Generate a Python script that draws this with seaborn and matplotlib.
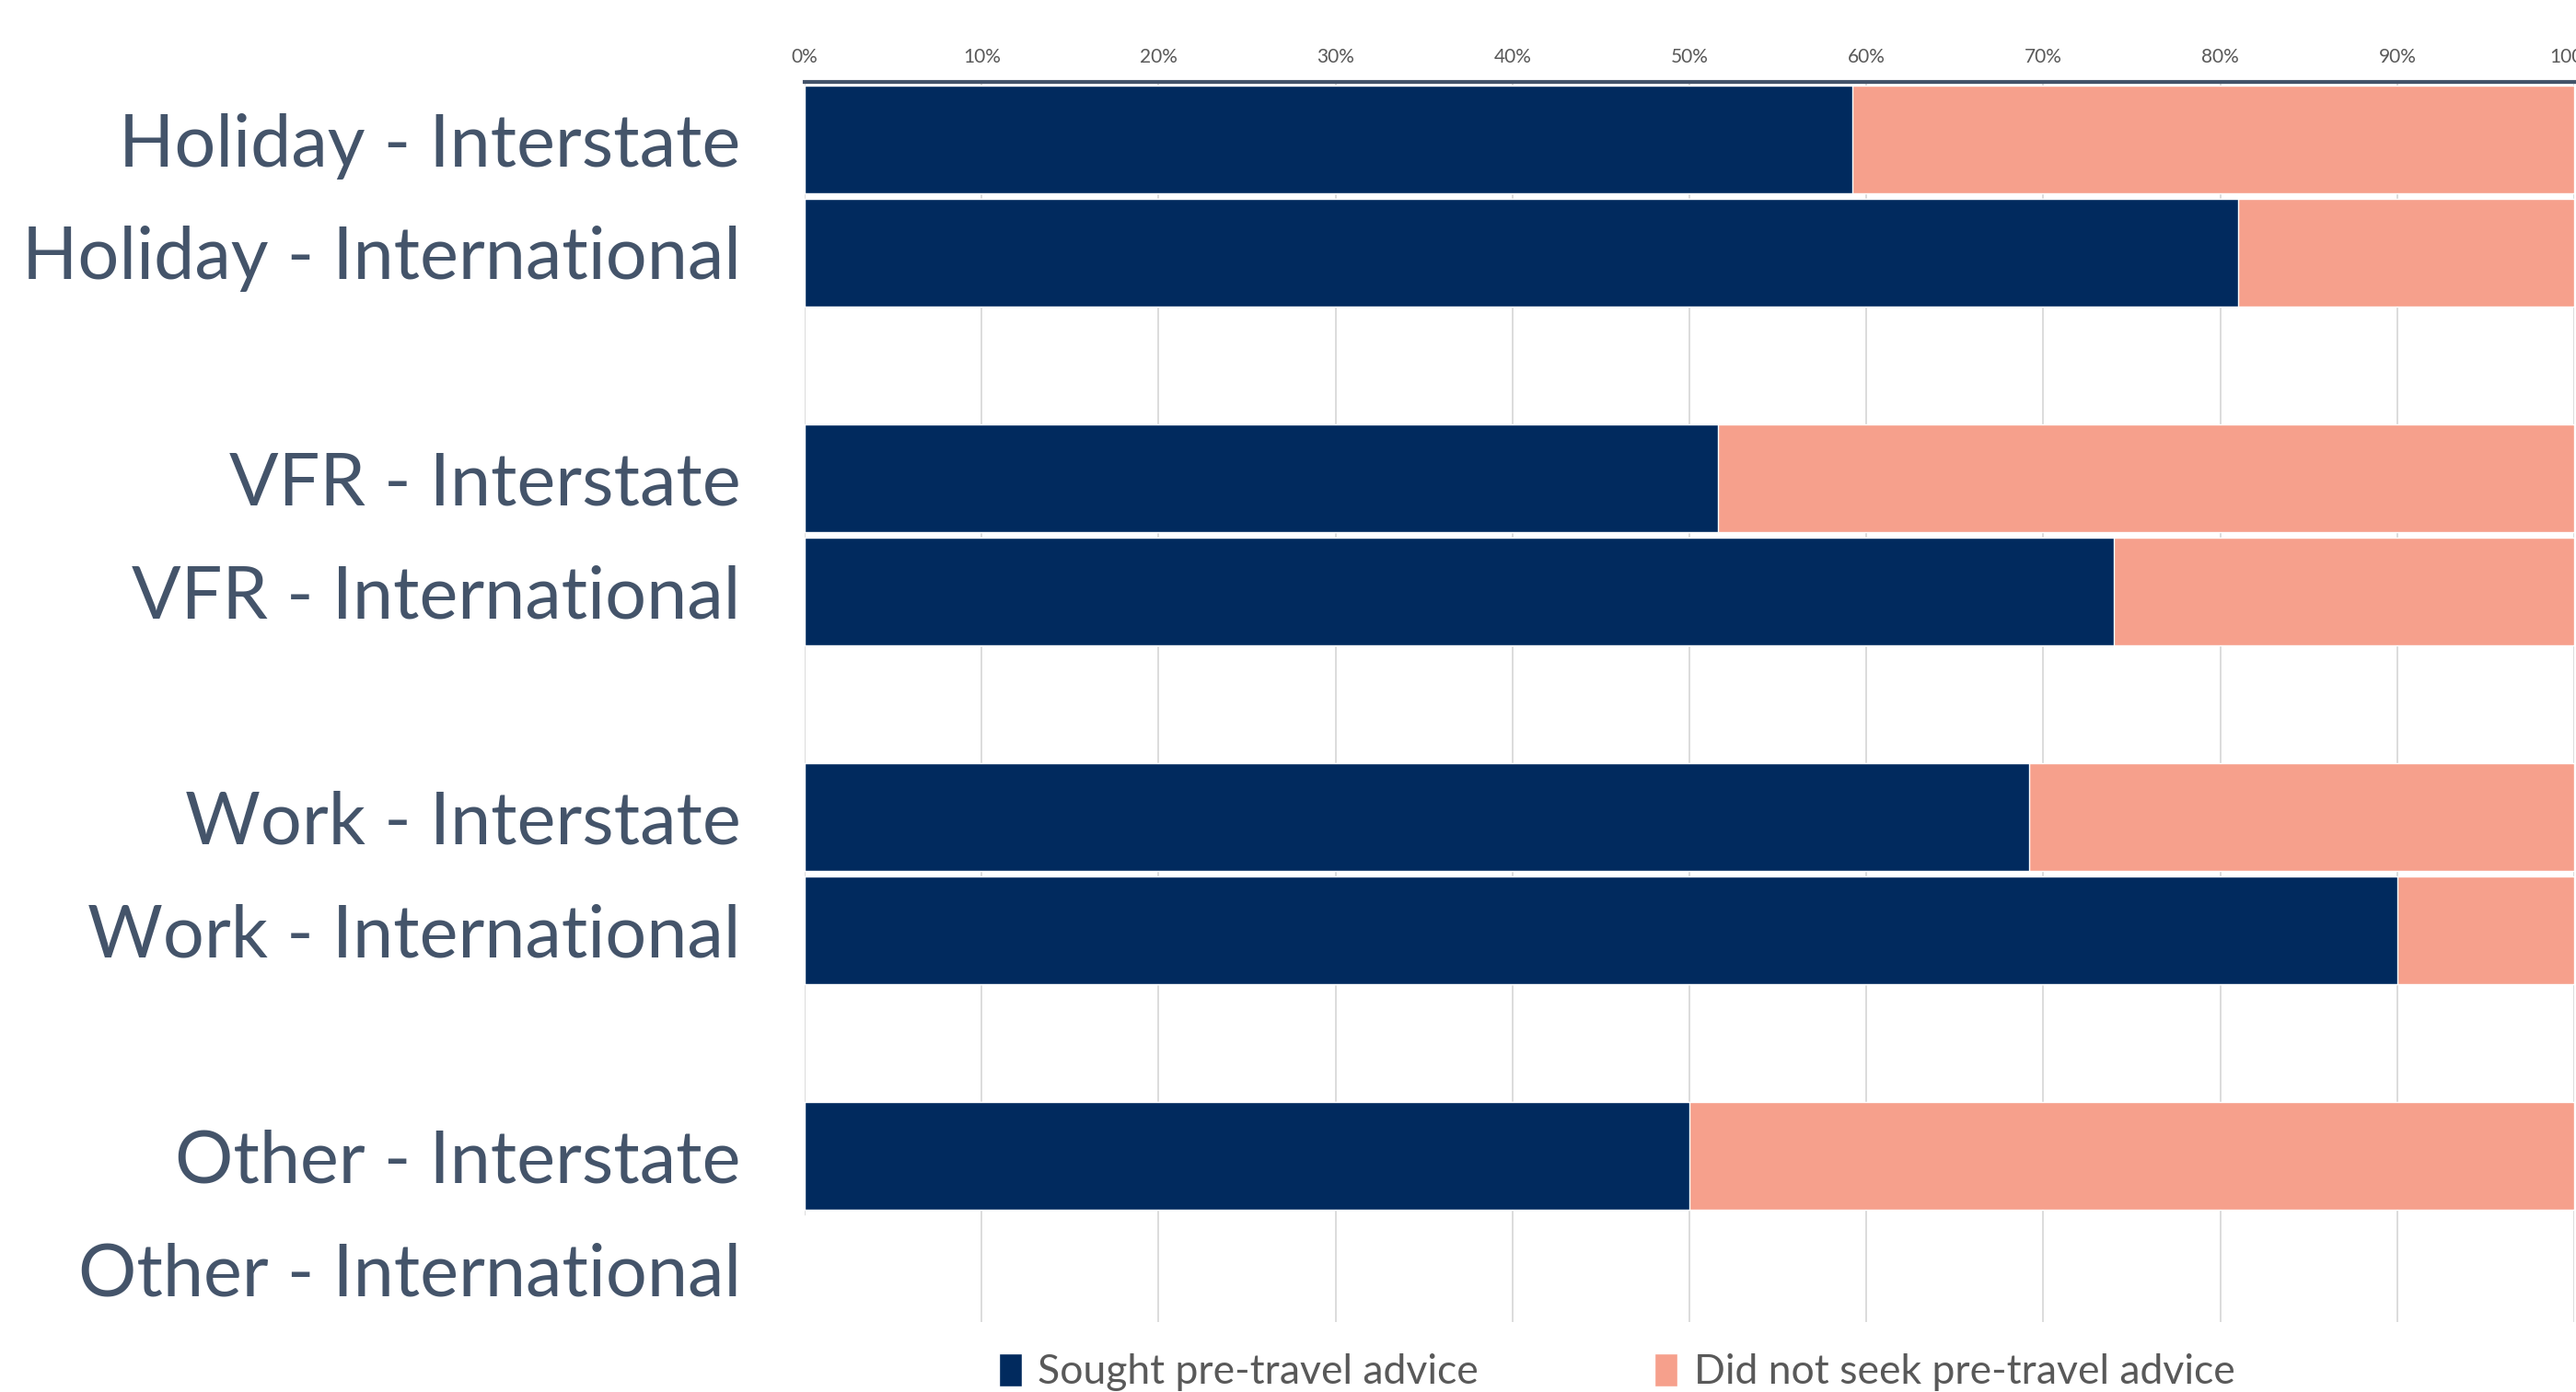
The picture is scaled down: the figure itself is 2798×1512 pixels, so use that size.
import numpy as np
import pandas as pd
import matplotlib
matplotlib.use("Agg")
import matplotlib.pyplot as plt
import seaborn as sns
from matplotlib.ticker import PercentFormatter

# ==========================================
# DATA
# ==========================================
categories = ["Holiday - Interstate", "Holiday - International",
              "VFR - Interstate", "VFR - International",
              "Work - Interstate", "Work - International",
              "Other - Interstate", "Other - International"]
sought = [59.2, 81.0, 51.6, 74.0, 69.2, 90.0, 50.0, 0.0]
not_sought = [40.8, 19.0, 48.4, 26.0, 30.8, 10.0, 50.0, 0.0]
series_names = ["Sought pre-travel advice", "Did not seek pre-travel advice"]

# Empty slots between the groups, as in the original chart
slot_order = ["Holiday - Interstate", "Holiday - International", "_gap1",
              "VFR - Interstate", "VFR - International", "_gap2",
              "Work - Interstate", "Work - International", "_gap3",
              "Other - Interstate", "Other - International"]

NAVY = "#012A5E"
SALMON = "#F6A08C"
LABEL_COL = "#44546A"
TICK_COL = "#595959"

df = pd.DataFrame({"category": categories, "sought": sought, "not_sought": not_sought})
df["total"] = df["sought"] + df["not_sought"]

sns.set_style("white")
plt.rcParams["font.family"] = ["Lato", "DejaVu Sans"]

fig = plt.figure(figsize=(27.98, 15.12), dpi=100)
ax = fig.add_axes([0.3124, 0.0503, 0.6869, 0.8908])

# stacked bars: full length first, then the "sought" part on top
sns.barplot(data=df, y="category", x="total", order=slot_order, orient="h",
            color=SALMON, width=0.95, saturation=1, ax=ax, zorder=2,
            label=series_names[1])
sns.barplot(data=df, y="category", x="sought", order=slot_order, orient="h",
            color=NAVY, width=0.95, saturation=1, ax=ax, zorder=3,
            label=series_names[0])

ax.set_xlim(0, 100)
ax.set_ylim(10.47, -0.51)
ax.xaxis.tick_top()
ax.xaxis.set_major_locator(plt.MultipleLocator(10))
ax.xaxis.set_major_formatter(PercentFormatter(decimals=0))
ax.tick_params(axis="x", length=0, pad=12, labelsize=15, labelcolor=TICK_COL)
ax.tick_params(axis="y", length=0, pad=50, labelsize=57, labelcolor=LABEL_COL)
ax.set_yticks(range(len(slot_order)))
ax.set_yticklabels(["" if s.startswith("_") else s for s in slot_order])
ax.set_xlabel("")
ax.set_ylabel("")

ax.grid(axis="x", color="#D9D9D9", linewidth=1.3, zorder=0)
ax.set_axisbelow(True)
for side in ["left", "right", "bottom"]:
    ax.spines[side].set_visible(False)
ax.spines["top"].set_color(LABEL_COL)
ax.spines["top"].set_linewidth(3)
ax.spines["top"].set_zorder(5)

handles, labels = ax.get_legend_handles_labels()
if ax.get_legend() is not None:
    ax.get_legend().remove()
order = [labels.index(n) for n in series_names]
fig.legend([handles[i] for i in order], [labels[i] for i in order],
           loc="center", bbox_to_anchor=(0.6277, 0.014), ncol=2, frameon=False,
           fontsize=32, labelcolor=TICK_COL, handlelength=0.55, handleheight=0.85,
           handletextpad=0.4, columnspacing=4.3)

plt.savefig("out.png", dpi=100)
plt.close()
